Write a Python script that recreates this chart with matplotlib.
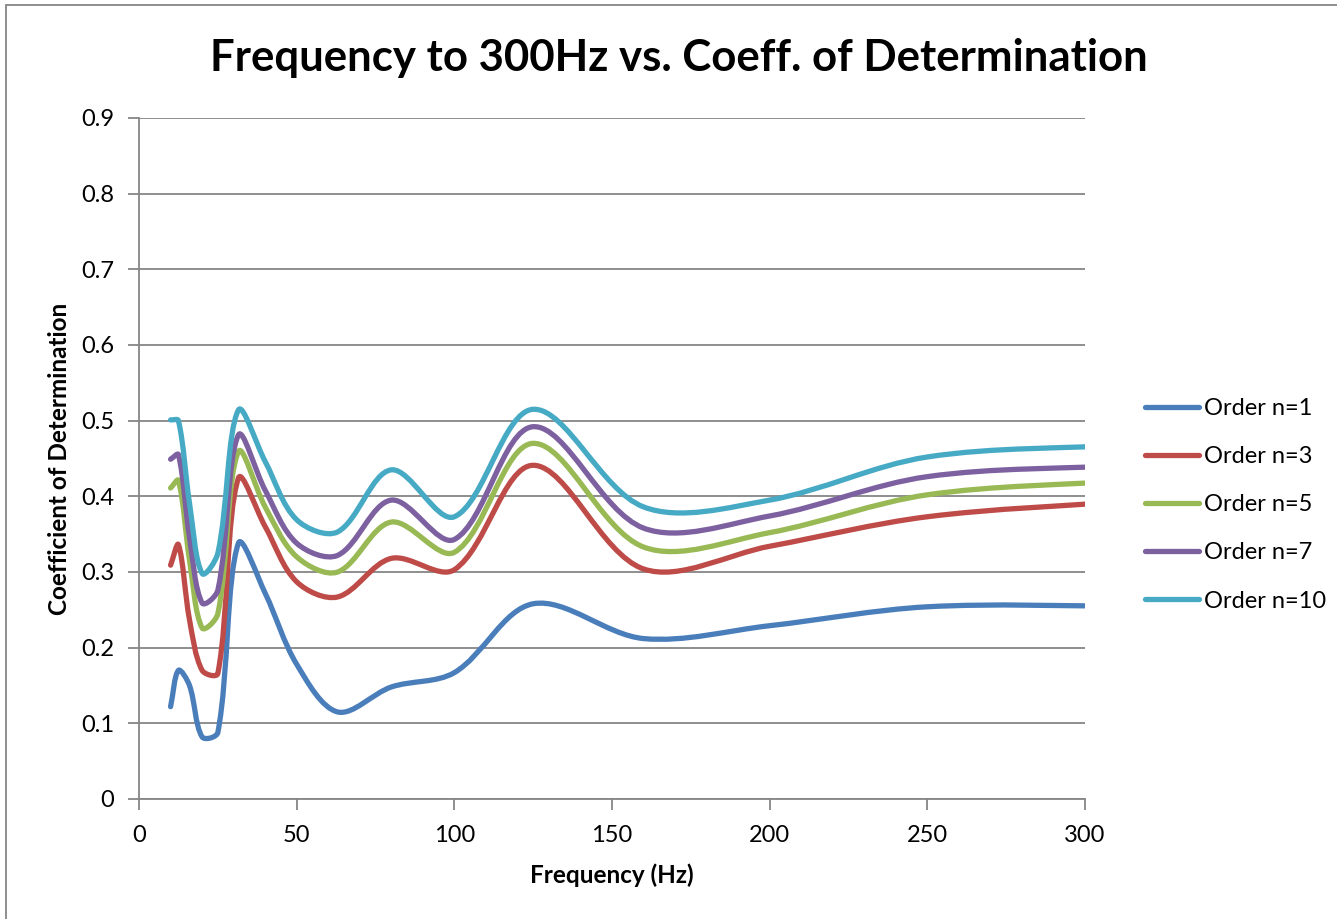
import numpy as np
import matplotlib.pyplot as plt
from matplotlib.path import Path
from matplotlib.patches import PathPatch, Rectangle

# third-octave band centres (Hz)
freq = [10, 12.5, 16, 20, 25, 31.5, 40, 50, 63, 80, 100, 125, 160, 200, 250, 315]

r2_n1 = [0.122, 0.170, 0.150, 0.082, 0.088, 0.338, 0.272, 0.178, 0.115, 0.148, 0.167, 0.258, 0.212, 0.229, 0.254, 0.255]
r2_n3 = [0.309, 0.336, 0.237, 0.170, 0.166, 0.424, 0.360, 0.287, 0.267, 0.318, 0.303, 0.441, 0.304, 0.334, 0.373, 0.394]
r2_n5 = [0.411, 0.421, 0.316, 0.226, 0.245, 0.459, 0.386, 0.320, 0.300, 0.366, 0.326, 0.470, 0.333, 0.352, 0.402, 0.421]
r2_n7 = [0.449, 0.455, 0.346, 0.259, 0.276, 0.481, 0.408, 0.338, 0.322, 0.395, 0.343, 0.492, 0.358, 0.374, 0.426, 0.441]
r2_n10 = [0.501, 0.500, 0.391, 0.298, 0.325, 0.514, 0.446, 0.369, 0.353, 0.435, 0.373, 0.515, 0.386, 0.395, 0.452, 0.468]

series = [r2_n1, r2_n3, r2_n5, r2_n7, r2_n10]
labels = ['Order n=1', 'Order n=3', 'Order n=5', 'Order n=7', 'Order n=10']
colors = ['#4A7EBB', '#BE4B48', '#98B954', '#7D60A0', '#46AAC5']

FONT = 'Lato'
GRID = '#868686'


def smooth_path(ax, x, y):
    # Excel-style smoothed line: cubic bezier through every point,
    # tangents scaled by neighbouring segment lengths on screen
    p = np.column_stack([x, y]).astype(float)
    d = ax.transData.transform(p)
    ext = np.vstack([p[0], p, p[-1]])
    dext = np.vstack([d[0], d, d[-1]])
    seg = np.hypot(*np.diff(dext, axis=0).T)
    verts = [p[0]]
    codes = [Path.MOVETO]
    for i in range(len(p) - 1):
        p0, p1, p2, p3 = ext[i], ext[i + 1], ext[i + 2], ext[i + 3]
        d01, d12, d23 = seg[i], seg[i + 1], seg[i + 2]
        c1 = p1 + (p2 - p0) * d12 / (3 * max(d01 + d12, 1e-9))
        c2 = p2 - (p3 - p1) * d12 / (3 * max(d12 + d23, 1e-9))
        verts += [c1, c2, p2]
        codes += [Path.CURVE4] * 3
    return Path(verts, codes)


fig = plt.figure(figsize=(13.37, 9.19), dpi=100)
ax = fig.add_axes([0.104, 0.1306, 0.7075, 0.741])
ax.set_xlim(0, 300)
ax.set_ylim(0, 0.9)

for y, lab, col in zip(series, labels, colors):
    patch = PathPatch(smooth_path(ax, freq, y), fill=False, edgecolor=col, lw=3.8,
                      capstyle='round', joinstyle='round', zorder=3)
    ax.add_patch(patch)
    ax.plot([], [], color=col, lw=3.8, solid_capstyle='round', label=lab)

ax.set_xticks(np.arange(0, 301, 50))
ax.set_yticks(np.arange(0, 0.91, 0.1))
ax.set_yticklabels(['0'] + ['%.1f' % v for v in np.arange(0.1, 0.91, 0.1)])

ax.grid(axis='y', color=GRID, lw=1.3)
ax.set_axisbelow(True)
for s in ['top', 'right']:
    ax.spines[s].set_visible(False)
for s in ['left', 'bottom']:
    ax.spines[s].set_color(GRID)
    ax.spines[s].set_linewidth(1.3)
ax.tick_params(colors=GRID, width=1.3, length=8, labelcolor='black', labelsize=17)
ax.tick_params(axis='x', pad=11)
ax.tick_params(axis='y', pad=10)
for t in ax.get_xticklabels() + ax.get_yticklabels():
    t.set_fontfamily(FONT)

# title is centred on the chart area, not on the plot area
fig.text(0.508, 1 - 58 / 919, 'Frequency to 300Hz vs. Coeff. of Determination', fontsize=31.5,
         fontweight='bold', fontfamily=FONT, ha='center', va='center')
ax.set_xlabel('Frequency (Hz)', fontsize=17.5, fontweight='bold', fontfamily=FONT, labelpad=12)
ax.set_ylabel('Coefficient of Determination', fontsize=17.5, fontweight='bold', fontfamily=FONT, labelpad=7)

ax.legend(loc='center left', bbox_to_anchor=(1.063, 0.432), frameon=False, borderpad=0,
          borderaxespad=0, handlelength=2.3, handletextpad=0.2, labelspacing=1.15,
          prop={'family': FONT, 'size': 17})

# chart area border
fig.patches.append(Rectangle((6 / 1337, -0.01), 1.0, 1 - 5 / 919 + 0.01, transform=fig.transFigure,
                             fill=False, edgecolor=GRID, lw=1.3))

fig.savefig('out.png', dpi=100)
